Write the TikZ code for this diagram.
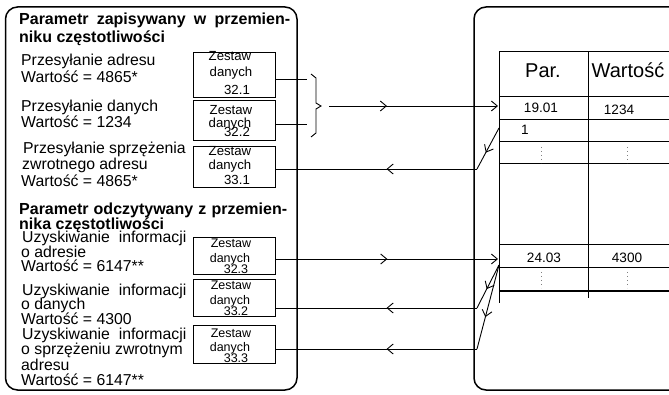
\documentclass[tikz,border=0pt]{standalone}
\usepackage{fontspec}
\setmainfont{Liberation Sans}
\usetikzlibrary{arrows.meta,decorations.markings}
\tikzset{
  >={Straight Barb[length=6pt,width=10pt]},
  panel/.style={draw,line width=1.5pt,rounded corners=12pt},
  dsbox/.style={draw,line width=0.9pt,minimum width=82pt,inner sep=0pt,anchor=north west},
  bodytxt/.style={anchor=base west,inner sep=0pt,font=\fontsize{15.8}{18}\selectfont},
  headtxt/.style={anchor=base west,inner sep=0pt,font=\bfseries\fontsize{16}{18}\selectfont},
  dsup/.style={anchor=base,inner sep=0pt,font=\fontsize{13.2}{14}\selectfont},
  dslow/.style={anchor=base,inner sep=0pt,font=\fontsize{12.5}{14}\selectfont},
  colhead/.style={anchor=base,inner sep=0pt,font=\fontsize{20}{22}\selectfont},
  celltxt/.style={anchor=base,inner sep=0pt,font=\fontsize{13.6}{15}\selectfont},
  conn/.style={line width=0.9pt},
  tabline/.style={line width=1pt},
  dotcol/.style={gray,line width=0.8pt,dash pattern=on 0.8pt off 3.2pt},
  midarrow/.style={postaction={decorate},decoration={markings,mark=at position #1 with {\arrow{>}}}},
}
\begin{document}
\begin{tikzpicture}[x=1pt,y=-1pt]
\useasboundingbox (0,0) rectangle (669,395);
\clip (0,0) rectangle (669,395);

% outer panels
\draw[panel] (5.5,7) rectangle (297,390);
\draw[panel] (720,7) -- (474,7) -- (474,390) -- (720,390);

% parameter table
\foreach \yy in {52,97,120,142,164,245,268,291}
  \draw[tabline] (499,\yy) -- (680,\yy);
\draw[tabline] (499,52) -- (499,303);
\draw[tabline] (588,52) -- (588,298);
\node[colhead] (hpar) at (543,78) {Par.};
\node[colhead] (hval) at (628,78) {Wartość};
\node[celltxt] (p1901) at (541,113) {19.01};
\node[celltxt] (v1234) at (619,115) {1234};
\node[celltxt,anchor=base west] (p1) at (521,135) {1};
\node[celltxt] (p2403) at (544,263) {24.03};
\node[celltxt] (v4300) at (627,263) {4300};
\draw[dotcol] (541,147) -- (541,163);
\draw[dotcol] (627,147) -- (627,163);
\draw[dotcol] (541,272) -- (541,288);
\draw[dotcol] (627,272) -- (627,288);

% section: written parameter
\node[headtxt] (h1a) at (19,25) {\makebox[271pt][s]{Parametr zapisywany w przemien-}};
\node[headtxt] (h1b) at (19,43) {niku częstotliwości};
\node[bodytxt] (a1) at (21,66) {Przesyłanie adresu};
\node[bodytxt] (a2) at (21,83) {Wartość = 4865*};
\node[bodytxt] (b1) at (21,112) {Przesyłanie danych};
\node[bodytxt] (b2) at (21,128) {Wartość = 1234};
\node[bodytxt] (c1) at (23,154) {Przesyłanie sprzężenia};
\node[bodytxt] (c2) at (22,170) {zwrotnego adresu};
\node[bodytxt] (c3) at (21,187) {Wartość = 4865*};

\node[dsbox,minimum height=45pt] (ds321) at (193,52) {};
\node[dsup] at (230,61) {Zestaw};
\node[dsup] at (231,77) {danych};
\node[dsup] at (237,95) {32.1};
\node[dsbox,minimum height=40pt] (ds322) at (193,100) {};
\node[dsup] at (231,115) {Zestaw};
\node[dsup] at (230,128) {danych};
\node[dsup] at (237,137) {32.2};
\node[dsbox,minimum height=41pt] (ds331) at (193,146) {};
\node[dsup] at (230,156) {Zestaw};
\node[dsup] at (230,170) {danych};
\node[dsup] at (237,185) {33.1};

% section: read parameter
\node[headtxt] (h2a) at (19,215) {\makebox[268pt][s]{Parametr odczytywany z przemien-}};
\node[headtxt] (h2b) at (19,230) {nika częstotliwości};
\node[bodytxt] (d1) at (22,243) {Uzyskiwanie~ informacji};
\node[bodytxt] (d2) at (21,258) {o adresie};
\node[bodytxt] (d3) at (21,272) {Wartość = 6147**};
\node[bodytxt] (e1) at (22,295) {Uzyskiwanie~ informacji};
\node[bodytxt] (e2) at (21,309) {o danych};
\node[bodytxt] (e3) at (21,324) {Wartość = 4300};
\node[bodytxt] (f1) at (22,339) {Uzyskiwanie~ informacji};
\node[bodytxt] (f2) at (21,354) {o sprzężeniu zwrotnym};
\node[bodytxt] (f3) at (21,370) {adresu};
\node[bodytxt] (f4) at (21,385) {Wartość = 6147**};

\node[dsbox,minimum height=37pt] (ds323) at (193,237) {};
\node[dslow] at (231,248) {Zestaw};
\node[dslow] at (230,262) {danych};
\node[dslow] at (236,273) {32.3};
\node[dsbox,minimum height=37pt] (ds332) at (193,279) {};
\node[dslow] at (231,290) {Zestaw};
\node[dslow] at (230,304) {danych};
\node[dslow] at (236,315) {33.2};
\node[dsbox,minimum height=38pt] (ds333) at (193,325) {};
\node[dslow] at (231,337) {Zestaw};
\node[dslow] at (230,351) {danych};
\node[dslow] at (236,362) {33.3};

% connector end points
\coordinate (j1) at (307,79);
\coordinate (j2) at (307,124);
\coordinate (bt) at (329,106);
\coordinate (in1) at (498,106);
\coordinate (out1) at (499,128);
\coordinate (k1) at (477,169);
\coordinate (in2) at (498,259);
\coordinate (out2) at (499,265);
\coordinate (k2) at (477,308);
\coordinate (k3) at (477,349);

% write request: two data sets combined by a brace
\draw[conn] (ds321.east |- j1) -- (j1);
\draw[conn] (ds322.east |- j2) -- (j2);
\draw[conn] (311,74) -- (316,78) -- (316,103) -- (321,106) -- (316,109) -- (316,133) -- (311,137);
\draw[conn,->,midarrow=0.343] (bt) -- (in1);
\draw[conn,midarrow=0.6] (out1) -- (k1);
\draw[conn,midarrow=0.45] (k1) -- (ds331.east |- k1);

% read request
\draw[conn,->,midarrow=0.502] (ds323.east |- in2) -- (in2);
\draw[conn,midarrow=0.56] (out2) -- (k2);
\draw[conn,midarrow=0.45] (k2) -- (ds332.east |- k2);
\draw[conn,midarrow=0.62] (out2) -- (k3);
\draw[conn,midarrow=0.45] (k3) -- (ds333.east |- k3);
\end{tikzpicture}
\end{document}
